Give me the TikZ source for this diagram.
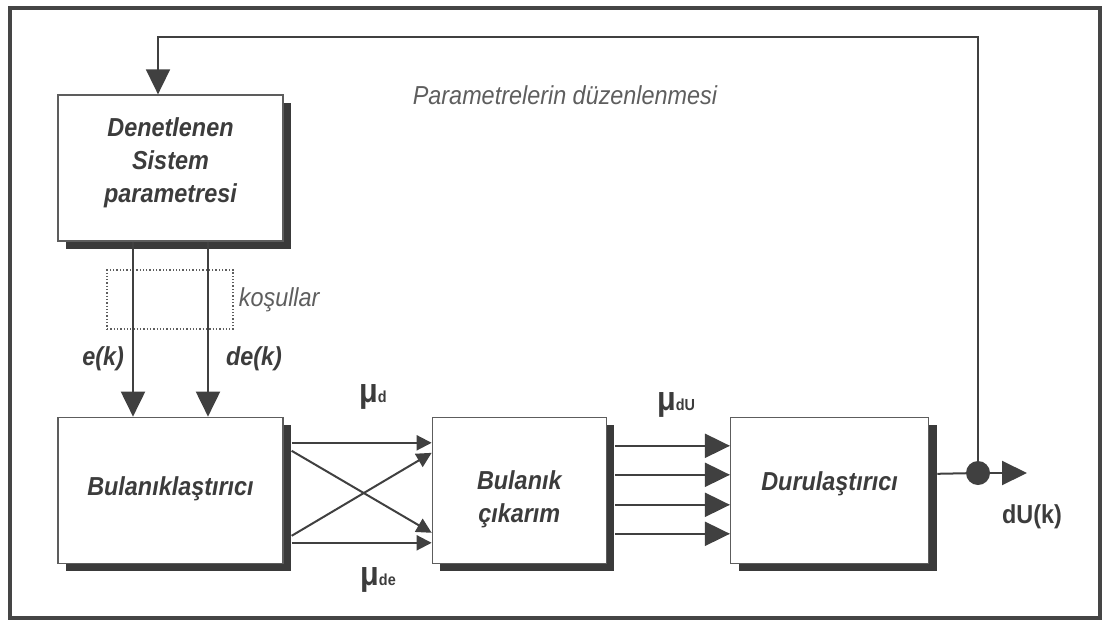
\documentclass[tikz,border=0pt]{standalone}
\usepackage{fontspec}
\setmainfont{Liberation Sans}[FakeStretch=0.9]
\usepackage{tikz}
\usetikzlibrary{
  arrows.meta,
  positioning,
  calc,
  shadows
}
\definecolor{flInk}{HTML}{3C3C3C}
\definecolor{flLine}{HTML}{404040}
\definecolor{flShade}{HTML}{3A3A3A}
\definecolor{flFrame}{HTML}{454545}
\definecolor{flMute}{HTML}{5E5E5E}
\newcommand{\musub}[1]{{\fontsize{16}{16}\selectfont #1}}
\tikzset{
  flnode/.style={
    draw=flLine!85, line width=1.3pt, fill=white, minimum height=146pt,
    inner sep=2pt,
    drop shadow={shadow xshift=8pt, shadow yshift=-8pt, fill=flShade, opacity=1}
  },
  fltext/.style={
    text=flInk, align=center, inner sep=0pt,
    font=\fontsize{26}{33}\selectfont\bfseries\itshape
  },
  flcond/.style={draw=flMute, dotted, line width=1.3pt, inner sep=0pt},
  fltag/.style={font=\fontsize{26}{26}\selectfont\itshape, text=flMute, inner sep=2pt},
  flnote/.style={font=\fontsize{26}{26}\selectfont\itshape, text=flMute, inner sep=0pt},
  flsig/.style={font=\fontsize{26}{26}\selectfont\bfseries\itshape, text=flInk, inner sep=0pt},
  flmu/.style={font=\fontsize{34}{34}\selectfont\bfseries, text=flInk, inner sep=0pt},
  flout/.style={font=\fontsize{26}{26}\selectfont\bfseries, text=flInk, inner sep=0pt},
  flwire/.style={line width=2pt, flLine},
  flarrow/.style={flwire, -{Triangle[length=25pt, width=24pt]}},
  flsmall/.style={flwire, -{Triangle[length=15pt, width=15pt]}},
  flfeed/.style={line width=1.8pt, flLine, -{Triangle[length=25pt, width=24pt]}},
  fljunction/.style={circle, fill=flLine, minimum size=24pt, inner sep=0pt},
  flframe/.style={line width=3.5pt, flFrame}
}
\begin{document}
\begin{tikzpicture}[x=1pt, y=-1pt]
  \useasboundingbox (0,0) rectangle (1107,624);
  \draw[flframe] (10,8) rectangle (1100,618);
  \node[flnode, minimum width=225pt,
    label={[fltext, yshift=5pt]center:Denetlenen\\Sistem\\parametresi}] (sys) at (170.5,168) {};
  \node[flnode, minimum width=225pt, below=175pt of sys,
    label={[fltext, yshift=2pt]center:Bulanıklaştırıcı}] (fuzz) {};
  \node[flnode, minimum width=174pt, right=148pt of fuzz,
    label={[fltext, yshift=-9pt]center:Bulanık\\çıkarım}] (inf) {};
  \node[flnode, minimum width=198pt, right=123pt of inf,
    label={[fltext, yshift=7pt]center:Durulaştırıcı}] (defuzz) {};
  \node[flcond, minimum width=126pt, minimum height=59pt] (cond) at (170,299.5) {};
  \node[fltag, right=3pt of cond] (condtag) {koşullar};
  \draw[flarrow] ([xshift=-37.5pt]sys.south) -- node[flsig, pos=0.67, left=8pt] {e(k)} ([xshift=-37.5pt]fuzz.north);
  \draw[flarrow] ([xshift=37.5pt]sys.south) -- node[flsig, pos=0.67, right=17pt] {de(k)} ([xshift=37.5pt]fuzz.north);
  \foreach \ya/\yb in {-47.5/-47.5, -39.5/42.5, 45.5/-37.5, 52.5/52.5}
    \draw[flsmall] ($(fuzz.east)+(8,\ya)$) -- ($(inf.west)+(0,\yb)$);
  \foreach \dy in {-44.5,-15.5,14.5,43.5}
    \draw[flarrow] ($(inf.east)+(8,\dy)$) -- ($(defuzz.west)+(0,\dy)$);
  \node[fljunction] (dot) at (978,473) {};
  \coordinate (out) at (1027,473);
  \draw[flwire] ($(defuzz.east)+(8,-16.5)$) -- (dot);
  \draw[flarrow] (dot) -- (out);
  \draw[flfeed] (dot) -- (dot |- 0,37) -| ([xshift=-12.5pt]sys.north);
  \node[flnote] (adapt) at (565,95) {Parametrelerin düzenlenmesi};
  \node[flmu] (mud) at (373,397) {μ\musub{d}};
  \node[flmu] (mude) at (378,580) {μ\musub{de}};
  \node[flmu] (mudu) at (676,405) {μ\musub{dU}};
  \node[flout] (outtag) at (1032,517) {dU(k)};
\end{tikzpicture}
\end{document}
